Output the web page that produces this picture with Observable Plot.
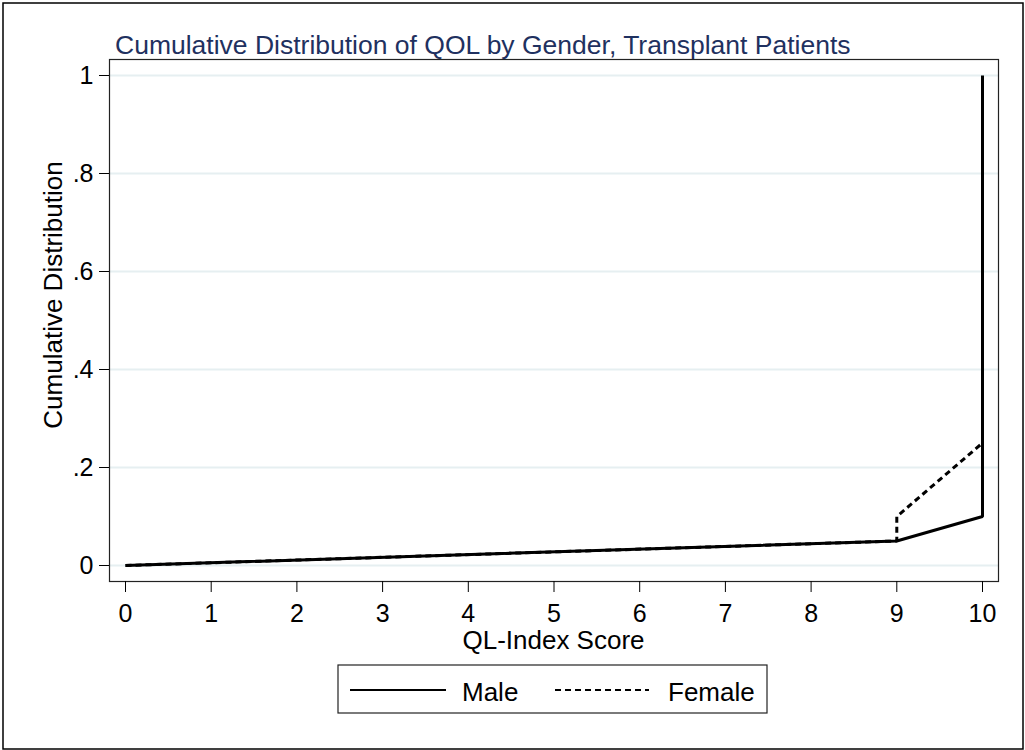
<!DOCTYPE html>
<html><head><meta charset="utf-8">
<script src="https://cdn.jsdelivr.net/npm/d3@7"></script>
<script src="https://cdn.jsdelivr.net/npm/@observablehq/plot@0.6"></script>
<style>body{margin:0;background:#fff} svg{display:block}</style>
</head><body><div id="chart"></div>
<script>
// Data
const maleScores = [0, 9, 10, 10];
const maleCdf = [0, 0.05, 0.10, 1];
const femaleScores = [0, 9, 9, 10, 10];
const femaleCdf = [0, 0.05, 0.10, 0.25, 1];
const xTicks = [0, 1, 2, 3, 4, 5, 6, 7, 8, 9, 10];
const yTicks = [0, 0.2, 0.4, 0.6, 0.8, 1];
const yTickLabels = ["0", ".2", ".4", ".6", ".8", "1"];
const seriesNames = ["Male", "Female"];
const titleText = "Cumulative Distribution of QOL by Gender, Transplant Patients";
const xLabel = "QL-Index Score";
const yLabel = "Cumulative Distribution";

const male = maleScores.map((s, i) => ({score: s, cdf: maleCdf[i]}));
const female = femaleScores.map((s, i) => ({score: s, cdf: femaleCdf[i]}));

const FONT = "'Liberation Sans', Arial, Helvetica, sans-serif";

const plot = Plot.plot({
  width: 1025,
  height: 750,
  marginLeft: 109,
  marginRight: 27,
  marginTop: 59,
  marginBottom: 169,
  style: {fontFamily: FONT, background: "white", color: "#000", overflow: "visible"},
  x: {domain: [0, 10], inset: 16},
  y: {domain: [0, 1], inset: 16},
  marks: [
    Plot.gridY(yTicks, {stroke: "#e6eff1", strokeOpacity: 1, strokeWidth: 2}),
    Plot.frame({stroke: "#222", strokeWidth: 1.2}),
    Plot.axisX(xTicks, {tickSize: 11, tickPadding: 12, fontSize: 25, label: null, stroke: "#000"}),
    Plot.axisY(yTicks, {tickSize: 10, tickPadding: 6, fontSize: 25, label: null, stroke: "#000",
      tickFormat: d => yTickLabels[yTicks.indexOf(d)]}),
    Plot.line(female, {x: "score", y: "cdf", stroke: "#000", strokeWidth: 3, strokeDasharray: "6,4", strokeLinejoin: "miter", strokeLinecap: "butt"}),
    Plot.line(male, {x: "score", y: "cdf", stroke: "#000", strokeWidth: 3, strokeLinejoin: "miter", strokeLinecap: "butt"})
  ]
});

const svg = d3.select(plot);
// outer border
svg.append("rect").attr("x", 3).attr("y", 3).attr("width", 1020).attr("height", 746)
  .attr("fill", "none").attr("stroke", "#000").attr("stroke-width", 1.5);
// title
svg.append("text").attr("x", 115).attr("y", 54).attr("fill", "#1f3160").attr("text-anchor", "start")
  .attr("font-size", 26.5).attr("font-family", FONT).text(titleText);
// x label
svg.append("text").attr("x", 553.5).attr("y", 649).attr("text-anchor", "middle")
  .attr("font-size", 26).attr("font-family", FONT).attr("fill", "#000").text(xLabel);
// y label
svg.append("text").attr("transform", "translate(62,295) rotate(-90)").attr("text-anchor", "middle")
  .attr("font-size", 26).attr("font-family", FONT).attr("fill", "#000").text(yLabel);
// legend
const lg = svg.append("g");
lg.append("rect").attr("x", 338).attr("y", 665).attr("width", 429).attr("height", 48)
  .attr("fill", "white").attr("stroke", "#222").attr("stroke-width", 1.2);
const legendItems = [
  {name: seriesNames[0], x1: 350, x2: 446, tx: 462, dash: null},
  {name: seriesNames[1], x1: 555, x2: 649, tx: 668, dash: "6,4"}
];
legendItems.forEach(it => {
  const l = lg.append("line").attr("x1", it.x1).attr("x2", it.x2).attr("y1", 690).attr("y2", 690)
    .attr("stroke", "#000").attr("stroke-width", 2);
  if (it.dash) l.attr("stroke-dasharray", it.dash);
  lg.append("text").attr("x", it.tx).attr("y", 701).attr("font-size", 26).attr("text-anchor", "start")
    .attr("font-family", FONT).attr("fill", "#000").text(it.name);
});

document.getElementById("chart").appendChild(plot);
</script>
</body></html>
